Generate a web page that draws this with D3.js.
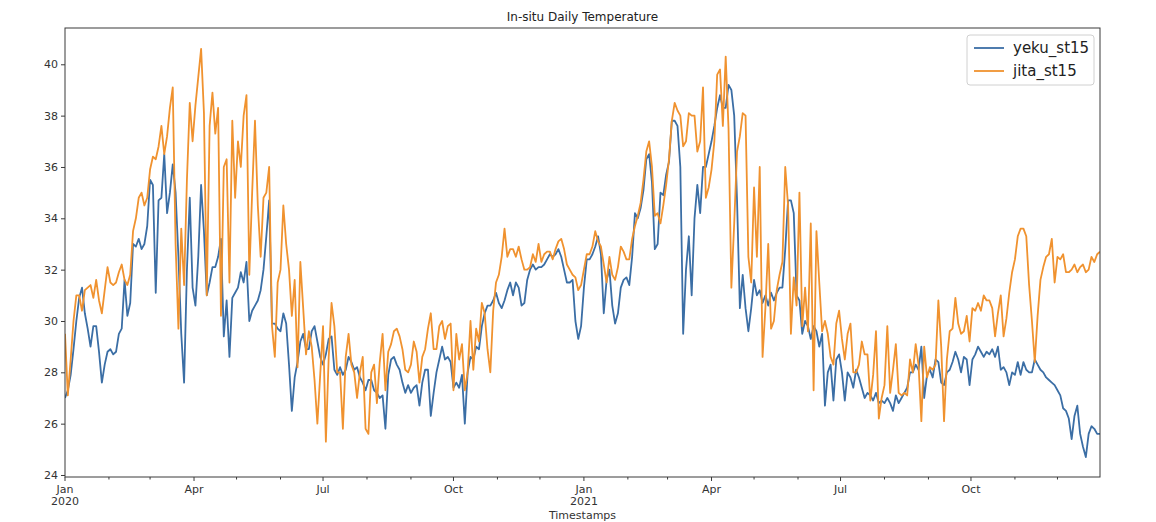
<!DOCTYPE html>
<html><head><meta charset="utf-8">
<script src="https://cdn.jsdelivr.net/npm/d3@7"></script>
<style>
body{margin:0;background:#fff}
text{font-family:"DejaVu Sans",sans-serif;}
</style>
</head><body>
<svg id="chart" width="1156" height="522"></svg>
<script>
const chartTitle = "In-situ Daily Temperature";
const xLabel = "Timestamps";
const seriesNames = ["yeku_st15", "jita_st15"];
const seriesColors = ["#3b6ea5", "#f0922f"];
const startDate = "2020-01-01";
const endDate = "2021-12-31";
const stepDays = 2;
const yTicks = [24, 26, 28, 30, 32, 34, 36, 38, 40];
const monthLabels = ["Jan", "Apr", "Jul", "Oct"];

const yeku = [
27.0,27.3,27.9,28.9,30.0,30.9,31.3,30.3,29.7,29.0,
29.8,29.8,28.8,27.6,28.3,28.8,28.9,28.7,28.8,29.5,
29.7,31.6,30.2,30.7,33.0,32.9,33.2,32.8,33.0,33.7,
35.5,35.3,31.1,34.7,34.8,36.5,34.2,35.0,36.1,35.0,
32.5,29.5,27.6,32.0,34.8,31.3,30.6,32.5,35.3,33.5,
31.0,31.5,32.1,32.1,32.5,33.2,29.4,30.8,28.6,30.9,
31.1,31.3,31.9,31.5,32.3,30.0,30.4,30.6,30.8,31.2,
32.0,33.3,34.7,29.9,29.9,29.7,29.6,30.3,29.9,28.3,
26.5,27.8,28.4,29.2,29.5,28.9,28.9,29.6,29.8,29.2,
28.6,28.3,28.7,29.3,29.4,28.1,27.9,28.2,27.9,28.1,
28.6,28.4,28.1,28.2,27.8,27.6,27.3,27.7,27.7,27.3,
27.2,27.0,27.1,25.8,27.9,28.5,28.6,28.3,28.1,27.6,
27.2,27.5,27.2,27.4,27.5,26.7,27.6,28.1,28.1,26.3,
27.2,28.0,28.5,29.0,28.5,28.6,28.4,27.4,27.6,27.4,
27.9,26.0,28.0,28.6,28.5,29.0,28.9,29.8,30.3,30.6,
30.6,30.8,31.1,30.7,30.5,30.8,31.2,31.5,31.0,31.5,
31.3,30.6,30.7,31.6,32.0,32.2,32.0,32.1,32.1,32.2,
32.4,32.6,32.5,32.6,32.8,32.5,32.0,31.5,31.5,31.6,
30.0,29.3,29.8,31.3,32.4,32.4,32.6,32.9,33.3,32.6,
30.3,31.6,32.0,30.6,29.9,30.3,31.3,31.6,31.7,31.4,
32.5,34.2,34.0,34.4,35.1,36.3,36.5,35.4,32.8,33.0,
35.0,34.9,35.7,36.2,37.8,37.8,37.6,36.0,29.5,32.0,
33.3,31.0,34.0,35.3,34.2,36.0,36.0,36.5,37.0,37.6,
38.3,38.8,38.3,38.3,39.2,39.0,38.0,34.7,30.5,31.8,
30.5,29.6,30.5,31.6,31.0,31.2,30.7,31.0,30.6,31.1,
30.8,31.1,31.3,31.3,32.8,34.7,34.7,34.2,31.0,30.8,
29.5,30.0,29.8,29.3,29.8,29.6,29.0,29.5,26.7,28.0,
28.3,26.9,28.5,28.7,28.0,26.9,28.0,27.8,27.4,28.1,
27.8,27.4,27.0,27.2,27.1,26.9,27.2,26.8,26.9,26.8,
27.0,26.8,26.5,27.1,26.8,27.0,27.2,27.4,28.0,28.0,
28.3,28.1,29.0,27.0,27.9,28.1,27.8,28.5,28.4,27.6,
27.5,28.0,28.1,28.4,28.8,28.5,28.0,28.6,28.5,27.5,
28.5,28.7,29.0,28.8,28.6,28.8,28.7,28.9,28.6,29.0,
28.1,28.2,28.0,27.5,28.0,27.9,28.4,27.9,28.4,28.1,
28.0,28.0,28.5,28.3,28.1,28.0,27.8,27.7,27.6,27.5,
27.3,27.1,26.6,26.5,26.2,25.4,26.3,26.7,25.6,25.1,
24.7,25.6,25.9,25.8,25.6,25.6
];

const jita = [
29.5,27.1,28.5,30.0,31.0,31.0,30.4,31.2,31.3,31.4,
30.9,31.6,30.8,30.3,31.2,32.1,31.5,31.4,31.5,31.9,
32.2,31.6,31.4,31.8,33.5,34.0,34.8,35.0,34.5,34.8,
35.9,36.4,36.3,36.8,37.6,36.5,37.2,38.3,39.1,33.0,
29.7,33.6,31.4,35.5,38.5,37.0,38.4,39.5,40.6,38.1,
31.0,37.6,38.9,37.3,38.3,30.2,36.0,36.3,31.5,37.8,
34.8,37.0,36.0,38.0,38.8,31.8,35.0,37.8,34.5,32.5,
34.8,35.0,36.0,29.8,28.6,31.5,32.0,34.5,33.0,32.0,
30.2,31.6,28.2,32.3,30.5,28.7,29.6,29.0,27.7,26.0,
27.9,29.8,25.3,28.6,30.7,29.8,28.0,28.0,25.8,28.6,
29.5,28.3,28.0,27.0,28.0,28.6,25.8,25.6,28.0,28.3,
26.8,28.4,29.5,27.3,28.8,29.1,29.6,29.7,29.4,28.9,
28.1,28.0,28.3,29.2,28.8,27.6,28.6,28.9,29.7,30.3,
28.9,28.9,29.8,30.0,29.3,29.8,29.9,27.3,29.5,28.5,
29.1,27.3,28.0,30.0,28.1,29.7,29.2,30.7,30.3,28.9,
28.0,30.4,31.5,31.8,32.5,33.6,32.5,32.8,32.8,32.5,
32.9,32.4,32.0,32.0,32.1,32.6,32.3,33.0,32.3,32.6,
32.7,32.7,32.4,32.8,33.1,33.2,32.8,32.2,32.0,31.8,
31.7,31.2,31.4,32.0,32.6,32.6,32.9,33.5,33.1,32.9,
32.2,31.5,32.5,31.8,31.6,32.1,32.9,32.7,32.4,32.4,
33.2,33.7,34.1,34.6,35.5,36.6,37.0,36.0,34.1,34.2,
33.8,34.5,35.3,36.3,37.8,38.5,38.2,38.0,36.8,37.0,
38.1,38.0,38.0,36.6,37.0,39.1,34.8,35.2,35.9,37.0,
39.6,39.8,37.6,40.3,37.5,31.3,33.8,36.6,37.2,38.1,
38.0,32.5,31.5,35.2,32.5,36.0,28.6,30.5,33.0,29.7,
30.0,31.2,31.8,32.3,36.0,34.5,29.5,31.7,30.6,35.0,
29.8,31.3,29.6,33.8,27.3,33.5,31.5,29.6,30.0,29.5,
28.6,28.3,29.9,30.4,29.3,28.5,29.5,29.9,28.0,28.0,
28.3,29.2,28.7,28.7,26.9,27.9,29.6,26.2,27.0,27.5,
29.8,27.2,28.1,29.1,27.2,27.1,27.2,27.1,28.5,28.0,
29.1,28.3,26.1,29.0,27.8,28.2,28.1,28.3,30.8,29.0,
26.1,28.5,29.6,29.7,30.9,29.9,29.5,29.6,30.2,29.2,
30.5,30.4,30.7,30.4,31.0,30.8,30.8,30.5,29.4,30.3,
31.0,29.4,30.1,31.1,31.9,32.4,33.3,33.6,33.6,33.3,
31.4,30.0,28.4,30.2,31.6,32.1,32.5,32.6,33.2,31.5,
32.5,32.4,32.6,31.9,31.9,32.0,32.2,31.9,32.1,32.2,
31.9,32.0,32.5,32.3,32.6,32.7
];

const plot = {left: 65, right: 1100, top: 28, bottom: 477};
const svg = d3.select("#chart");
const t0 = new Date(startDate + "T00:00:00Z");
const t1 = new Date(endDate + "T00:00:00Z");
const dates = yeku.map((_, i) => d3.utcDay.offset(t0, i * stepDays));

const x = d3.scaleUtc().domain([t0, t1]).range([plot.left, plot.right]);
const y = d3.scaleLinear().domain([23.922, 41.414]).range([plot.bottom, plot.top]);

svg.append("rect").attr("width", 1156).attr("height", 522).attr("fill", "#fff");

svg.append("defs").append("clipPath").attr("id", "clip")
  .append("rect").attr("x", plot.left).attr("y", plot.top)
  .attr("width", plot.right - plot.left).attr("height", plot.bottom - plot.top);

const axisColor = "#3a3a3a";
const textColor = "#333";

// y axis
const yAxis = svg.append("g").attr("transform", `translate(${plot.left},0)`)
  .call(d3.axisLeft(y).tickValues(yTicks).tickSize(4).tickPadding(3).tickFormat(d3.format("d")));
yAxis.select(".domain").remove();
yAxis.selectAll("line").attr("stroke", axisColor);
yAxis.selectAll("text").attr("fill", textColor).attr("font-size", 11).attr("font-family", "DejaVu Sans");

// x axis: major quarterly ticks + minor monthly ticks
const majorTicks = d3.utcMonth.every(3).range(t0, d3.utcDay.offset(t1, 1));
const minorTicks = d3.utcMonth.range(t0, d3.utcDay.offset(t1, 1)).filter(d => d.getUTCMonth() % 3 !== 0);
const xg = svg.append("g");
xg.selectAll("line.major").data(majorTicks).join("line")
  .attr("x1", d => x(d)).attr("x2", d => x(d))
  .attr("y1", plot.bottom).attr("y2", plot.bottom + 4)
  .attr("stroke", axisColor);
xg.selectAll("line.minor").data(minorTicks).join("line")
  .attr("x1", d => x(d)).attr("x2", d => x(d))
  .attr("y1", plot.bottom).attr("y2", plot.bottom + 2.5)
  .attr("stroke", axisColor);
const lbl = xg.selectAll("text").data(majorTicks).join("text")
  .attr("x", d => x(d)).attr("y", plot.bottom + 16)
  .attr("text-anchor", "middle").attr("font-size", 11).attr("fill", textColor);
lbl.append("tspan").attr("x", d => x(d)).text(d => monthLabels[d.getUTCMonth() / 3]);
lbl.filter(d => d.getUTCMonth() === 0).append("tspan")
  .attr("x", d => x(d)).attr("dy", 12).text(d => d.getUTCFullYear());

// lines
const seriesData = [yeku, jita];
const line = d3.line().x((d, i) => x(dates[i])).y(d => y(d));
const lg = svg.append("g").attr("clip-path", "url(#clip)");
seriesData.forEach((vals, k) => {
  lg.append("path").datum(vals)
    .attr("fill", "none").attr("stroke", seriesColors[k])
    .attr("stroke-width", 1.8).attr("stroke-linejoin", "round")
    .attr("d", line);
});

// frame
svg.append("rect").attr("x", plot.left).attr("y", plot.top)
  .attr("width", plot.right - plot.left).attr("height", plot.bottom - plot.top)
  .attr("fill", "none").attr("stroke", axisColor).attr("stroke-width", 1);

// title and label
svg.append("text").attr("x", (plot.left + plot.right) / 2).attr("y", 21)
  .attr("text-anchor", "middle").attr("font-size", 12).attr("fill", "#222").text(chartTitle);
svg.append("text").attr("x", (plot.left + plot.right) / 2).attr("y", 519)
  .attr("text-anchor", "middle").attr("font-size", 11).attr("fill", textColor).text(xLabel);

// legend
const leg = svg.append("g");
leg.append("rect").attr("x", 967).attr("y", 35).attr("width", 127).attr("height", 50)
  .attr("rx", 3).attr("fill", "#fff").attr("fill-opacity", 0.85)
  .attr("stroke", "#d0d0d0");
seriesNames.forEach((name, k) => {
  const yy = 48 + k * 23;
  leg.append("line").attr("x1", 974).attr("x2", 1004).attr("y1", yy).attr("y2", yy)
    .attr("stroke", seriesColors[k]).attr("stroke-width", 1.8);
  leg.append("text").attr("x", 1013).attr("y", yy + 5).attr("font-size", 15)
    .attr("fill", "#222").text(name);
});
</script>
</body></html>
